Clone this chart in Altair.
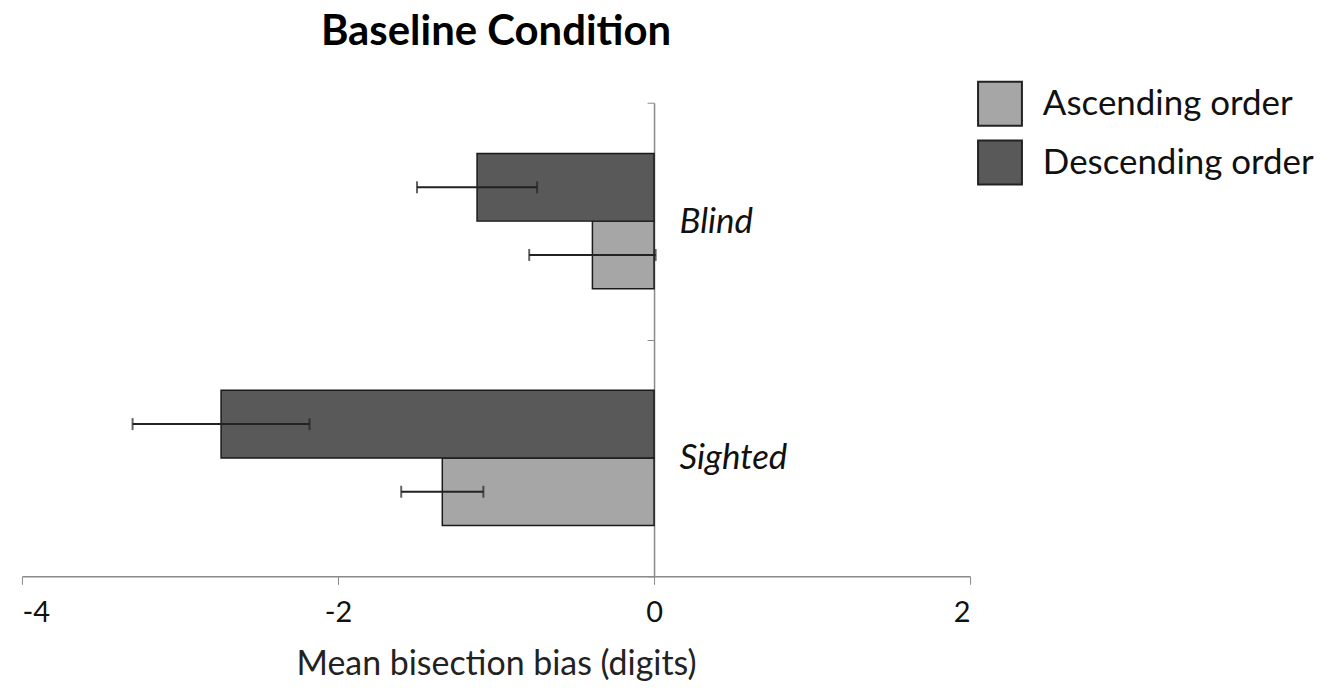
import altair as alt
import pandas as pd

groups = ["Blind", "Blind", "Sighted", "Sighted"]
orders = ["Ascending order", "Descending order", "Ascending order", "Descending order"]
means = [-0.39, -1.12, -1.34, -2.74]
errors = [0.40, 0.38, 0.26, 0.56]

group_order = ["Blind", "Sighted"]
legend_order = ["Ascending order", "Descending order"]
stack_order = ["Descending order", "Ascending order"]
x_ticks = [-4, -2, 0, 2]

df = pd.DataFrame({"group": groups, "order": orders, "mean": means, "err": errors})
df["lo"] = df["mean"] - df["err"]
df["hi"] = df["mean"] + df["err"]

W, H = 951, 475
FONT = "Lato"

x_axis = alt.Axis(values=x_ticks, title="Mean bisection bias (digits)", grid=False,
                  labelExpr="toString(datum.value)",
                  domainColor="#8a8a8a", tickColor="#8a8a8a", tickSize=8, domainWidth=1.5,
                  labelFont=FONT, labelFontSize=29, labelColor="#111", labelPadding=14,
                  titleFont=FONT, titleFontSize=34, titleFontWeight="normal", titleColor="#222",
                  titlePadding=20)
x_scale = alt.Scale(domain=[-4, 2], nice=False, zero=True)

y_axis = alt.Axis(title=None, orient="left", offset=-W * 4 / 6, tickBand="extent",
                  labelAlign="left", labelPadding=-32, labelFontStyle="italic",
                  labelFontSize=35, labelFont=FONT, labelColor="#111",
                  tickSize=7, domainColor="#8a8a8a", tickColor="#8a8a8a", domainWidth=1.5)
y = alt.Y("group:N", sort=group_order, scale=alt.Scale(paddingInner=0, paddingOuter=0), axis=y_axis)
yoff = alt.YOffset("order:N", sort=stack_order, scale=alt.Scale(paddingOuter=0.75, paddingInner=0))

color = alt.Color("order:N",
                  scale=alt.Scale(domain=legend_order, range=["#a6a6a6", "#595959"]),
                  legend=alt.Legend(title=None, orient="none", legendX=958, legendY=-22,
                                    symbolType="square", symbolSize=1936,
                                    symbolStrokeColor="#222", symbolStrokeWidth=2,
                                    symbolOpacity=1, labelFontSize=35, labelFont=FONT,
                                    labelColor="#111", labelOffset=20, rowPadding=7,
                                    labelLimit=500, padding=0))

base = alt.Chart(df)

bars = base.mark_bar(stroke="#1a1a1a", strokeWidth=1.5).encode(
    x=alt.X("mean:Q", scale=x_scale, axis=x_axis),
    x2=alt.datum(0),
    y=y, yOffset=yoff, color=color,
)

whisk = base.mark_rule(color="#222", strokeWidth=2).encode(
    x=alt.X("lo:Q", scale=x_scale, axis=x_axis),
    x2="hi:Q",
    y=y, yOffset=yoff,
)

cap_lo = base.mark_tick(color="#222", thickness=2, size=12).encode(
    x=alt.X("lo:Q", scale=x_scale, axis=x_axis), y=y, yOffset=yoff,
)
cap_hi = base.mark_tick(color="#222", thickness=2, size=12).encode(
    x=alt.X("hi:Q", scale=x_scale, axis=x_axis), y=y, yOffset=yoff,
)

chart = alt.layer(bars, whisk, cap_lo, cap_hi).properties(
    width=W, height=H,
    title=alt.TitleParams("Baseline Condition", fontSize=42, font=FONT, fontWeight="bold",
                          anchor="middle", offset=27, color="#000"),
    autosize=alt.AutoSizeParams(type="none"),
    padding={"left": 14, "top": 94, "right": 360, "bottom": 105},
).configure_view(stroke=None)

chart.save("out.html", embed_options={"renderer": "svg", "actions": False})
